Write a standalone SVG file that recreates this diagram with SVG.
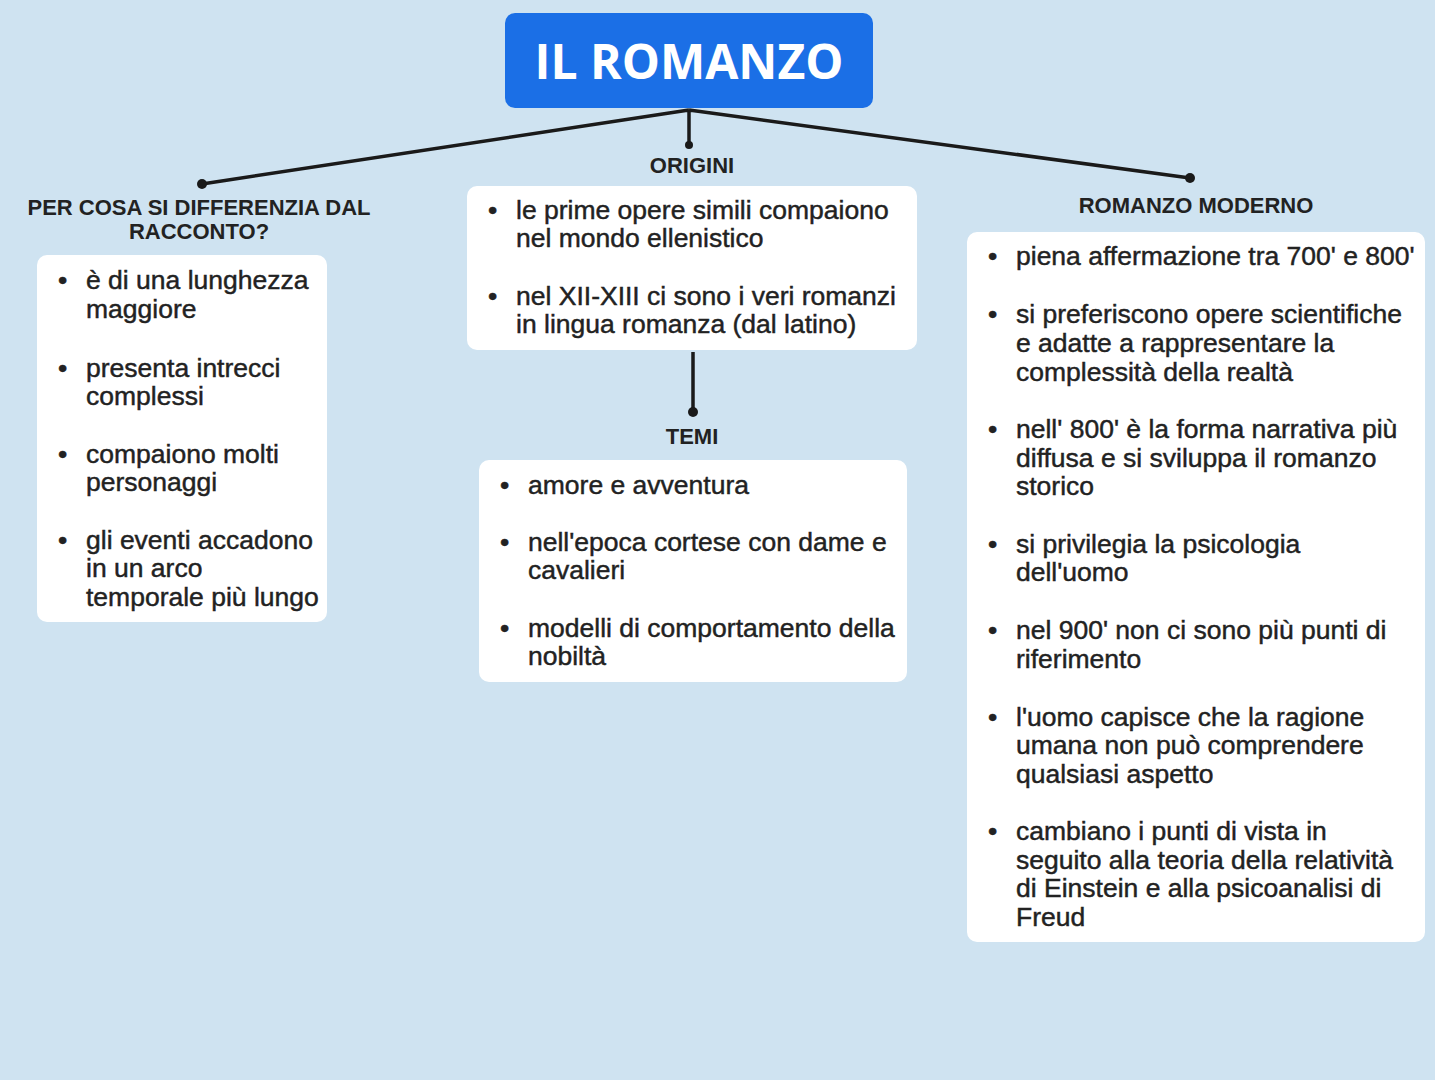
<svg xmlns="http://www.w3.org/2000/svg" width="1435" height="1080" viewBox="0 0 1435 1080">
<style>
.box{fill:#fff}
.t{font-family:"Liberation Sans",Arial,sans-serif;font-size:26.5px;fill:#222;stroke:#222;stroke-width:0.45}
.h{font-family:"Liberation Sans",Arial,sans-serif;font-size:22px;font-weight:bold;fill:#222;text-anchor:middle}
.c{stroke:#1a1a1a;stroke-width:3.5;fill:none}
.d{fill:#1a1a1a}
</style>
<rect width="1435" height="1080" fill="#cfe3f1"/>
<g id="connectors">
<path class="c" d="M689 110 L202 184 M689 110 L1190 178 M689 110 L689 145 M693 352 L693 412"/>
<circle class="d" cx="202" cy="184" r="5"/><circle class="d" cx="1190" cy="178" r="5"/>
<circle class="d" cx="689" cy="145" r="4"/><circle class="d" cx="693" cy="412" r="5"/>
</g>
<g id="title">
<rect x="505" y="13" width="368" height="95" rx="10" fill="#1b6fe6"/>
<text x="689" y="79" font-family="'Open Sans','Liberation Sans',sans-serif" font-size="48" font-weight="bold" fill="#fff" text-anchor="middle">IL ROMANZO</text>
</g>
<g id="differenza">
<text class="h" x="199" y="215">PER COSA SI DIFFERENZIA DAL</text>
<text class="h" x="199" y="239">RACCONTO?</text>
<rect class="box" x="37" y="255" width="290" height="367" rx="10"/>
<g class="t">
<text x="58" y="289">•</text><text x="86" y="289">è di una lunghezza</text><text x="86" y="318">maggiore</text>
<text x="58" y="377">•</text><text x="86" y="377">presenta intrecci</text><text x="86" y="405">complessi</text>
<text x="58" y="463">•</text><text x="86" y="463">compaiono molti</text><text x="86" y="491">personaggi</text>
<text x="58" y="549">•</text><text x="86" y="549">gli eventi accadono</text><text x="86" y="577">in un arco</text><text x="86" y="606">temporale più lungo</text>
</g>
</g>
<g id="origini">
<text class="h" x="692" y="173">ORIGINI</text>
<rect class="box" x="467" y="186" width="450" height="164" rx="10"/>
<g class="t">
<text x="488" y="219">•</text><text x="516" y="219">le prime opere simili compaiono</text><text x="516" y="247">nel mondo ellenistico</text>
<text x="488" y="305">•</text><text x="516" y="305">nel XII-XIII ci sono i veri romanzi</text><text x="516" y="333">in lingua romanza (dal latino)</text>
</g>
</g>
<g id="temi">
<text class="h" x="692" y="444">TEMI</text>
<rect class="box" x="479" y="460" width="428" height="222" rx="10"/>
<g class="t">
<text x="500" y="494">•</text><text x="528" y="494">amore e avventura</text>
<text x="500" y="551">•</text><text x="528" y="551">nell'epoca cortese con dame e</text><text x="528" y="579">cavalieri</text>
<text x="500" y="637">•</text><text x="528" y="637">modelli di comportamento della</text><text x="528" y="665">nobiltà</text>
</g>
</g>
<g id="moderno">
<text class="h" x="1196" y="213">ROMANZO MODERNO</text>
<rect class="box" x="967" y="232" width="458" height="710" rx="10"/>
<g class="t">
<text x="988" y="265">•</text><text x="1016" y="265">piena affermazione tra 700' e 800'</text>
<text x="988" y="323">•</text><text x="1016" y="323">si preferiscono opere scientifiche</text><text x="1016" y="352">e adatte a rappresentare la</text><text x="1016" y="381">complessità della realtà</text>
<text x="988" y="438">•</text><text x="1016" y="438">nell' 800' è la forma narrativa più</text><text x="1016" y="467">diffusa e si sviluppa il romanzo</text><text x="1016" y="495">storico</text>
<text x="988" y="553">•</text><text x="1016" y="553">si privilegia la psicologia</text><text x="1016" y="581">dell'uomo</text>
<text x="988" y="639">•</text><text x="1016" y="639">nel 900' non ci sono più punti di</text><text x="1016" y="668">riferimento</text>
<text x="988" y="726">•</text><text x="1016" y="726">l'uomo capisce che la ragione</text><text x="1016" y="754">umana non può comprendere</text><text x="1016" y="783">qualsiasi aspetto</text>
<text x="988" y="840">•</text><text x="1016" y="840">cambiano i punti di vista in</text><text x="1016" y="869">seguito alla teoria della relatività</text><text x="1016" y="897">di Einstein e alla psicoanalisi di</text><text x="1016" y="926">Freud</text>
</g>
</g>
</svg>
